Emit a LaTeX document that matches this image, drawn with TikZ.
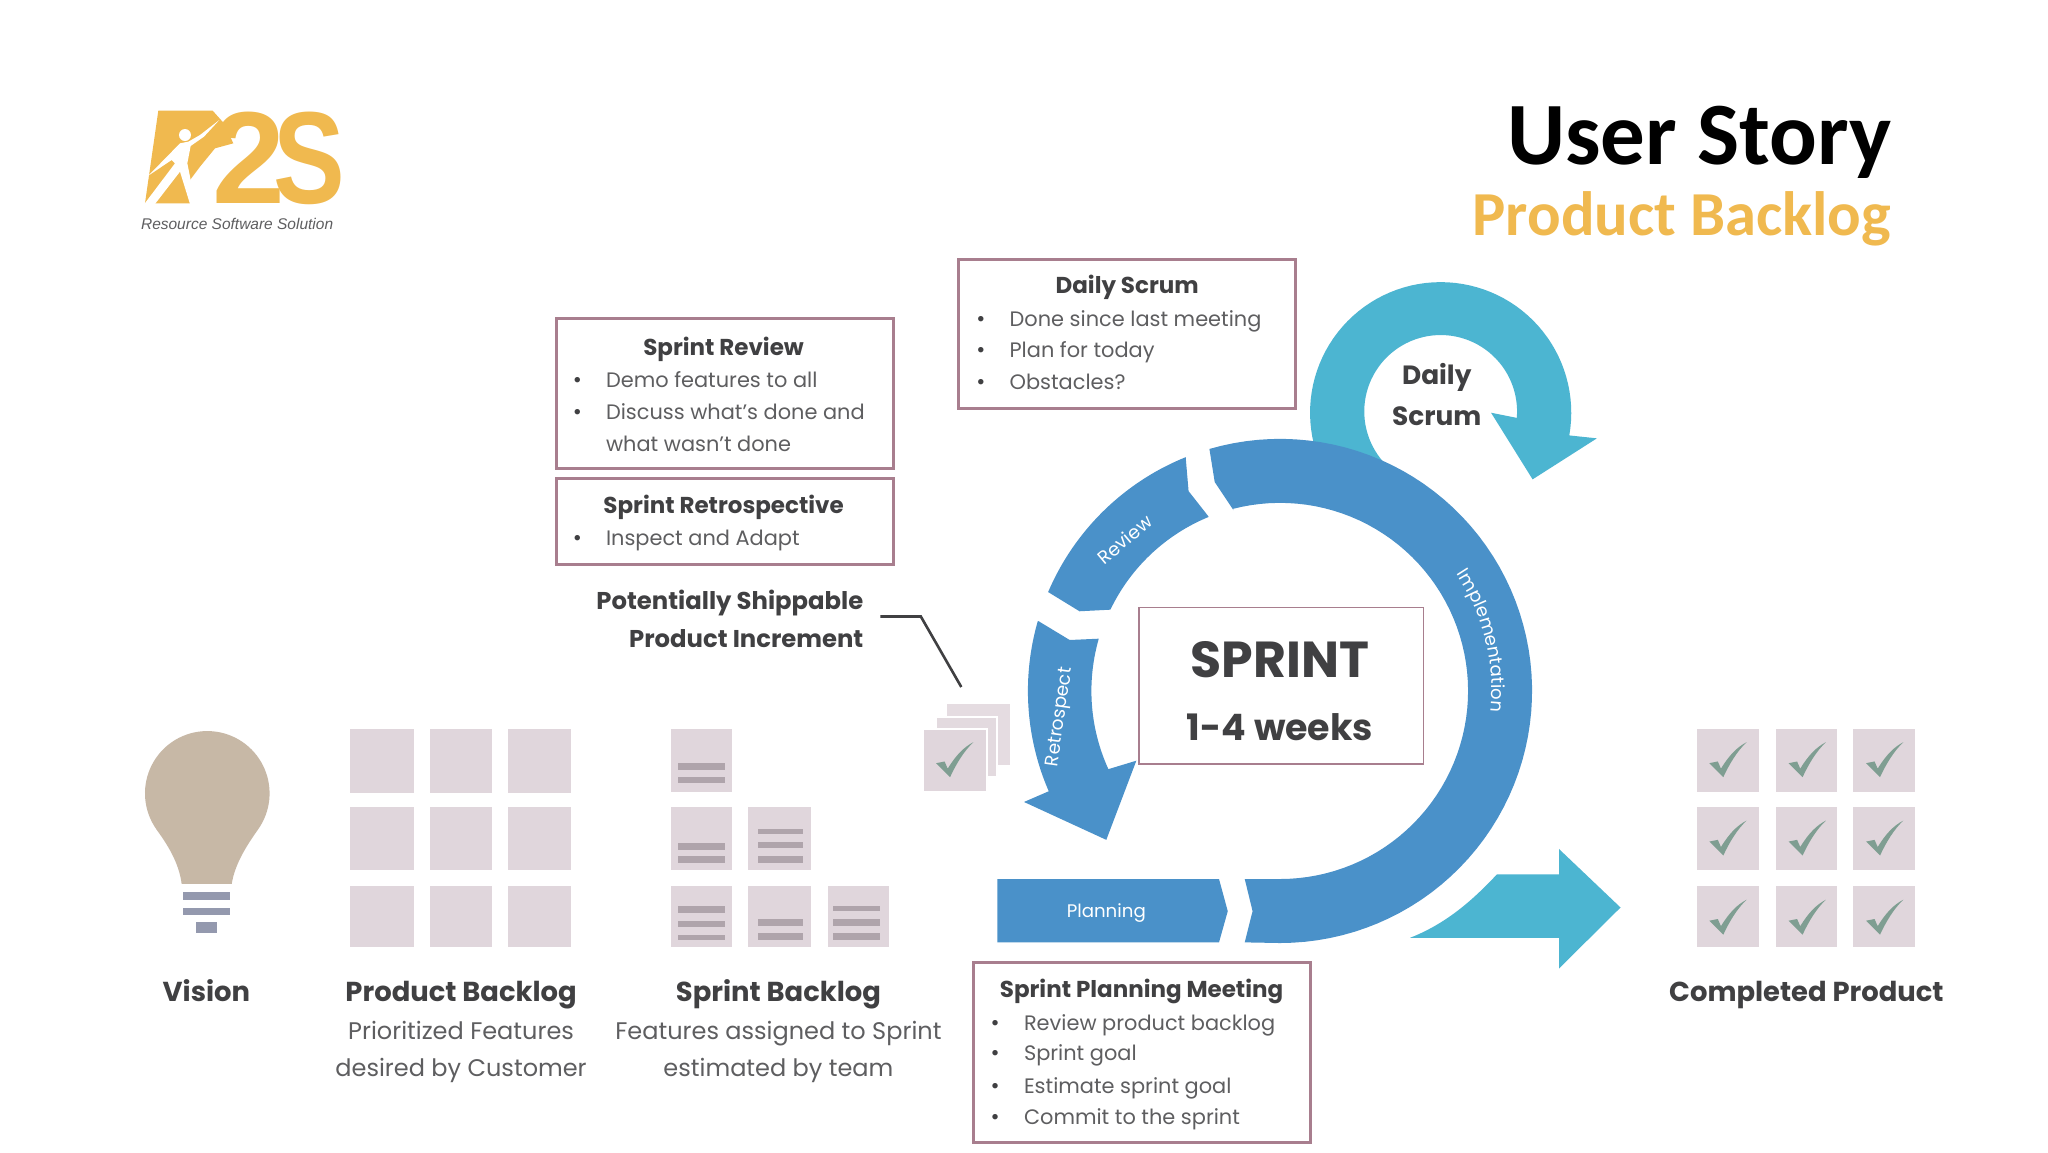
\documentclass[tikz,border=0pt]{standalone}
\usepackage{fontspec}
\usetikzlibrary{decorations.text}
\setmainfont{Poppins}
\newfontfamily\carl{Carlito}
\newfontfamily\libs{Liberation Sans}
\def\uu{1.30612pt}
\newcommand\fs[1]{\fontsize{#1}{#1}\selectfont}
\definecolor{logoy}{HTML}{F0B94F}
\definecolor{ringb}{HTML}{4A91C9}
\definecolor{teal1}{HTML}{4CB5D1}
\definecolor{sqc}{HTML}{E0D6DC}
\definecolor{barc}{HTML}{AFA4AB}
\definecolor{chkc}{HTML}{7F9E92}
\definecolor{boxc}{HTML}{A87E8E}
\definecolor{dk}{HTML}{404042}
\definecolor{md}{HTML}{5E5E60}
\definecolor{bulbc}{HTML}{C7B8A6}
\definecolor{basec}{HTML}{9499AE}
\tikzset{
  txt/.style={inner sep=0pt,outer sep=0pt,anchor=base},
  head/.style={txt,text=dk,font=\bfseries\fs{23}},
  item/.style={txt,anchor=base west,text=md,font=\fs{20.9}},
  bul/.style={txt,text=dk,font=\fs{22}},
  lab/.style={txt,text=dk,font=\bfseries\fs{27.4}},
  sub/.style={txt,text=md,font=\fs{24}},
  onring/.style={txt,anchor=center,text=white,font=\fs{18.5}},
  panel/.style={draw=boxc,line width=3pt,fill=white,inner sep=0pt,outer sep=0pt},
  arcd/.style 2 args={domain=#1:#2,samples=70}
}
\newcommand\sq[4]{\fill[sqc] (#1,#2) rectangle (#3,#4);}
\newcommand\sbar[4]{\fill[barc] (#1,#2) rectangle (#3,#4);}
\newcommand\chk[2]{\begin{scope}[shift={(#1,#2)}]\fill[chkc] (9.7,26.3) -- (16.2,25) -- (18.6,30.5) .. controls (25,20) and (31,14) .. (38.3,10.2) .. controls (31,17) and (25,27) .. (20.4,37) -- cycle;\end{scope}}
\begin{document}
\begin{tikzpicture}[x=\uu,y=-\uu]
\useasboundingbox (0,0) rectangle (1568,882);
\fill[white] (0,0) rectangle (1568,882);

% logo
\begin{scope}[x=.33333pt,y=-.33333pt,shift={(300,240)}]
  \fill[logoy] (175,92) -- (338,92) -- (372,130) -- (400,190) -- (345,205) -- (300,260) -- (270,300) -- (272,370) -- (135,370) -- cycle;
  \node[txt,anchor=base west,text=logoy,font=\libs\bfseries\fs{95},xscale=.5] (logoR) at (165,368) {R};
  \node[txt,anchor=base west,text=logoy,font=\libs\bfseries\fs{131}] (logo2) at (338,370) {2};
  \node[txt,anchor=base west,text=logoy,font=\libs\bfseries\fs{131},xscale=.82] (logoS) at (522,370) {S};
  \fill[white] (358,120) -- (300,165) -- (265,185) -- (240,190) -- (145,287) -- (215,240) -- (225,250) -- (133,372) -- (165,372) -- (240,275) -- (270,372) -- (295,372) -- (272,300) -- (262,250) -- (272,198) -- (312,170) -- cycle;
  \fill[white] (255,165) circle (18);
\end{scope}
\node[txt,anchor=base west,text=md,font=\libs\itshape\fs{15.5}] (tagline) at (108,176) {Resource Software Solution};

% title
\node[txt,anchor=base east,font=\carl\bfseries\fs{89}] (title) at (1448,126) {User Story};
\node[txt,anchor=base east,text=logoy,font=\carl\bfseries\fs{62.6}] (subtitle) at (1448,180) {Product Backlog};

% bulb
\fill[bulbc] (139.1,676.8) .. controls (137,660) and (127.5,645.6) .. (119.6,634.8) -- plot[arcd={145}{395}] ({158.7+47.7*cos(\x)},{607.4+47.7*sin(\x)}) .. controls (190.9,644.6) and (180,660) .. (177.4,676.8) -- cycle;
\fill[basec] (140.4,682.7) rectangle (176,689.3);
\fill[basec] (140.4,695.2) rectangle (176,700.6);
\fill[basec] (149.8,706.2) rectangle (166.4,714.1);

% product backlog
\foreach \xa/\xb in {268/317,329/377,389/437}
  \foreach \ya/\yb in {558/607,618/666,678/725}
    {\sq{\xa}{\ya}{\xb}{\yb}}

% sprint backlog
\sq{513.5}{558}{560.5}{606.6}
\sq{513.5}{618}{560.5}{666}\sq{573}{618}{621}{666}
\sq{513.5}{678.5}{560.5}{725}\sq{573}{678.5}{621}{725}\sq{634}{678.5}{680.6}{725}
\sbar{519}{584.3}{555}{589.7}\sbar{519}{594.7}{555}{599.6}
\sbar{519}{645.7}{555}{650.5}\sbar{519}{655.5}{555}{660.5}
\sbar{580}{634.5}{614.6}{638.6}\sbar{580}{644.4}{614.6}{649.5}\sbar{580}{655.5}{614.6}{660.5}
\sbar{519}{694}{555}{699}\sbar{519}{705}{555}{710}\sbar{519}{716}{555}{720}
\sbar{580}{703.7}{614.6}{708.8}\sbar{580}{714.5}{614.6}{720}
\sbar{638}{694}{674}{697.7}\sbar{638}{703.7}{674}{708.8}\sbar{638}{714.5}{674}{720}

% increment stack
\fill[sqc!85!white] (725,539) rectangle (773,585.7);
\filldraw[fill=sqc!90!white,draw=white,line width=2pt] (716.7,548.7) rectangle (763.6,595);
\filldraw[fill=sqc,draw=white,line width=2pt] (707,558) rectangle (755.5,606.6);
\chk{707}{558}

% completed product
\foreach \xa/\xb in {1299/1347,1359.7/1406.7,1419/1466.4}
  \foreach \ya/\yb in {558/606.6,618/666,678.6/725}
    {\sq{\xa}{\ya}{\xb}{\yb}\chk{\xa}{\ya}}

% daily scrum arrow
\fill[teal1] plot[arcd={147}{370}] ({1103+100*cos(\x)},{316+100*sin(\x)}) -- (1222.6,335.6) -- (1173.4,367) -- (1141.6,316) -- (1161.6,320) -- plot[arcd={365}{125}] ({1103+58.5*cos(\x)},{315+58.5*sin(\x)}) -- cycle;

% output arrow
\fill[teal1] (1079.6,718) .. controls (1105,708) and (1125,692) .. (1146,669.5) -- (1193.6,669.5) -- (1193.6,650) -- (1240.7,694.8) -- (1193.6,741.5) -- (1193.6,718) -- cycle;

% ring
\fill[ringb] (926,344) -- (930,369) -- (944.4,390.6) -- plot[arcd={-104.5}{90}] ({980+144*cos(\x)},{529+144*sin(\x)}) -- (953,673) -- (959,697.6) -- (953,721.5) -- (980,722) -- plot[arcd={90}{-106.3}] ({980+193*cos(\x)},{529+193*sin(\x)}) -- cycle;
\fill[ringb] (907.8,350.3) -- (910,376) -- (924.6,394.6) -- plot[arcd={-112.3}{-154.4}] ({980+144*cos(\x)},{529+144*sin(\x)}) -- (826.5,468) -- (802.5,453.3) -- plot[arcd={-156.9}{-111.9}] ({980+193*cos(\x)},{529+193*sin(\x)}) -- cycle;
\fill[ringb] (795,475.5) -- (819,490) -- (841,489) -- plot[arcd={196}{155.5}] ({980+144.4*cos(\x)},{529+144.4*sin(\x)}) -- (870,582.4) -- (847,643) -- (784,614) -- (802.5,606) -- plot[arcd={156.5}{196.1}] ({980+193*cos(\x)},{529+193*sin(\x)}) -- cycle;
\fill[ringb] (763.6,673) -- (933.3,673) -- (940,697.6) -- (933.3,721.5) -- (763.6,721.5) -- cycle;

\node[onring,rotate=40] (review) at (861,413) {Review};
\node[onring,rotate=82] (retro) at (812,549) {Retrospect};
\node[onring,font=\fs{18.2}] (planning) at (847,699) {Planning};
\path[decorate,decoration={text along path,text align=center,text={|\fs{18}\color{white}|Implementation}}] plot[arcd={-42}{14}] ({980+162*cos(\x)},{529+162*sin(\x)});

% sprint box
\node[draw=boxc,line width=1.5pt,fill=white,minimum width=218*\uu,minimum height=120*\uu,inner sep=0pt] (sprintbox) at (981,525) {};
\node[txt,text=dk,font=\bfseries\fs{50.6}] (sprint) at (980,519) {SPRINT};
\node[txt,text=dk,font=\bfseries\fs{36.4}] (weeks) at (980,567) {1-4 weeks};

% daily scrum label
\node[txt,text=dk,font=\bfseries\fs{26.4}] (ds1) at (1100,294.5) {Daily};
\node[txt,text=dk,font=\bfseries\fs{26.4}] (ds2) at (1100,326) {Scrum};

% panels
\node[panel,minimum width=258*\uu,minimum height=114*\uu] (dsbox) at (863,255.5) {};
\node[head] (dst) at (863,225) {Daily Scrum};
\node[bul] (dsb1) at (751,250) {•};\node[item] (dsi1) at (773,250) {Done since last meeting};
\node[bul] (dsb2) at (751,274) {•};\node[item] (dsi2) at (773,274) {Plan for today};
\node[bul] (dsb3) at (751,298) {•};\node[item] (dsi3) at (773,298) {Obstacles?};

\node[panel,minimum width=258*\uu,minimum height=115*\uu] (srbox) at (555,301.5) {};
\node[head] (srt) at (554,272) {Sprint Review};
\node[bul] (srb1) at (442,297) {•};\node[item] (sri1) at (464,297) {Demo features to all};
\node[bul] (srb2) at (442,321) {•};\node[item] (sri2) at (464,321) {Discuss what's done and};
\node[item] (sri3) at (464,346) {what wasn't done};

\node[panel,minimum width=258*\uu,minimum height=66*\uu] (rebox) at (555,399) {};
\node[head] (ret) at (554,393) {Sprint Retrospective};
\node[bul] (reb1) at (442,418) {•};\node[item] (rei1) at (464,418) {Inspect and Adapt};

\node[panel,minimum width=258*\uu,minimum height=138*\uu] (spbox) at (874,806) {};
\node[head] (spt) at (874,764) {Sprint Planning Meeting};
\node[bul] (spb1) at (762,789) {•};\node[item] (spi1) at (784,789) {Review product backlog};
\node[bul] (spb2) at (762,812) {•};\node[item] (spi2) at (784,812) {Sprint goal};
\node[bul] (spb3) at (762,837) {•};\node[item] (spi3) at (784,837) {Estimate sprint goal};
\node[bul] (spb4) at (762,861) {•};\node[item] (spi4) at (784,861) {Commit to the sprint};

% potentially shippable
\node[txt,anchor=base east,text=dk,font=\bfseries\fs{24.3}] (ps1) at (661,467) {Potentially Shippable};
\node[txt,anchor=base east,text=dk,font=\bfseries\fs{24.3}] (ps2) at (661,496) {Product Increment};
\coordinate (leadstart) at (674,472);
\coordinate (leadbend) at (705,472);
\coordinate (leadend) at (736,526);
\draw[dk,line width=2.6pt] (leadstart) -- (leadbend) -- (leadend);

% labels
\node[lab] (vision) at (158,767) {Vision};
\node[lab] (pb) at (353,767) {Product Backlog};
\node[sub] (pb1) at (353,796) {Prioritized Features};
\node[sub] (pb2) at (353,824) {desired by Customer};
\node[lab] (sb) at (596,767) {Sprint Backlog};
\node[sub] (sb1) at (596,796) {Features assigned to Sprint};
\node[sub] (sb2) at (596,824) {estimated by team};
\node[lab] (cp) at (1383,767) {Completed Product};
\end{tikzpicture}
\end{document}
